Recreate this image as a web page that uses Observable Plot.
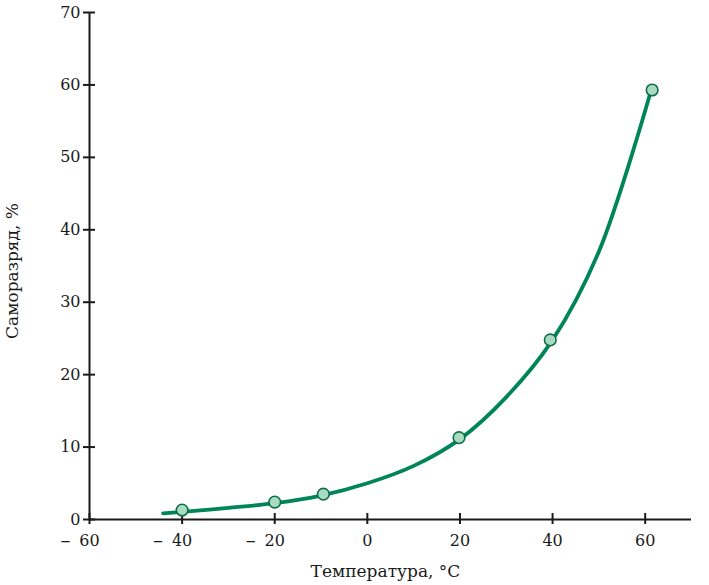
<!DOCTYPE html>
<html>
<head>
<meta charset="utf-8">
<script src="https://cdn.jsdelivr.net/npm/d3@7"></script>
<script src="https://cdn.jsdelivr.net/npm/@observablehq/plot@0.6"></script>
<style>
  html, body { margin: 0; padding: 0; background: #fff; }
  #chart svg { display: block; }
</style>
</head>
<body>
<div id="chart"></div>
<script>
// measured points
const pointTemp = [-40, -20, -9.5, 19.8, 39.5, 61.5];
const pointRate = [1.3, 2.4, 3.5, 11.3, 24.8, 59.3];
// smooth curve
const curveTemp = [-44.1, -40, -30, -20, -10, 0, 10, 20, 30, 40, 50, 61.3];
const curveRate = [0.85, 1.05, 1.6, 2.25, 3.3, 5.0, 7.4, 11.1, 16.9, 24.8, 37.0, 59.3];
const xTicks = [-60, -40, -20, 0, 20, 40, 60];
const yTicks = [0, 10, 20, 30, 40, 50, 60, 70];
const xLabel = "Температура, °C";
const yLabel = "Саморазряд, %";

const points = pointTemp.map((t, i) => ({t, v: pointRate[i]}));
const curve = curveTemp.map((t, i) => ({t, v: curveRate[i]}));
const negTicks = xTicks.filter(d => d < 0);

const axisColor = "#1a1a1a";
const font = "DejaVu Serif";

const chart = Plot.plot({
  width: 709,
  height: 585,
  marginLeft: 89,
  marginRight: 18,
  marginTop: 12,
  marginBottom: 66,
  style: {fontFamily: font, fontSize: "16px", background: "#fff", color: axisColor},
  x: {domain: [-60, 70]},
  y: {domain: [0, 70]},
  marks: [
    Plot.axisX({ticks: xTicks, tickSize: 0, tickPadding: 15, tickFormat: d => String(Math.abs(d)), label: null, fontSize: 16}),
    Plot.axisY({ticks: yTicks, tickSize: 0, tickPadding: 9, label: null, fontSize: 16}),
    Plot.text(negTicks, {x: d => d, frameAnchor: "bottom", text: () => "–", textAnchor: "end", lineAnchor: "middle", dx: -19, dy: 21, fontSize: 20, fill: axisColor}),
    Plot.ruleY([0], {stroke: axisColor, strokeWidth: 2}),
    Plot.ruleX([-60], {stroke: axisColor, strokeWidth: 2}),
    Plot.ruleX(xTicks, {x: d => d, y1: 0, y2: 0, insetTop: -6, insetBottom: -5, stroke: axisColor, strokeWidth: 2}),
    Plot.ruleY(yTicks, {y: d => d, x1: -60, x2: -60, insetLeft: -6, insetRight: -6, stroke: axisColor, strokeWidth: 2}),
    Plot.text([xLabel], {frameAnchor: "bottom", textAnchor: "middle", dx: -5, dy: 52, lineAnchor: "middle", fontSize: 17, fill: axisColor}),
    Plot.text([yLabel], {frameAnchor: "left", textAnchor: "middle", rotate: -90, dx: -77, dy: 5, lineAnchor: "middle", fontSize: 17, fill: axisColor}),
    Plot.line(curve, {x: "t", y: "v", curve: "catmull-rom", stroke: "#00845a", strokeWidth: 3.8}),
    Plot.dot(points, {x: "t", y: "v", r: 5.8, fill: "#a8dbbf", stroke: "#0c6e48", strokeWidth: 1.6})
  ]
});
document.getElementById("chart").appendChild(chart);
</script>
</body>
</html>
